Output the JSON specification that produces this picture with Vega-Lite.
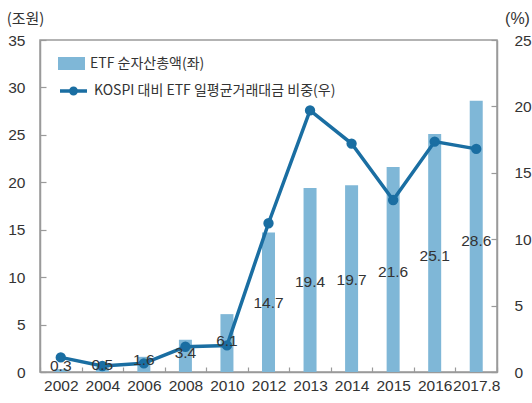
{
  "$schema": "https://vega.github.io/schema/vega-lite/v6.json",
  "autosize": {"type": "none"},
  "padding": {"left": 40, "top": 40, "right": 35, "bottom": 31},
  "width": 457,
  "height": 332,
  "background": "white",
  "config": {
    "view": {"stroke": "#9a9a9a", "strokeWidth": 1.5},
    "font": "Liberation Sans",
    "legend": {"padding": 0},
    "axis": {"grid": false, "domainColor": "#9a9a9a", "tickColor": "#9a9a9a", "domainWidth": 1.5, "tickWidth": 1.2, "labelColor": "#333333", "labelFont": "Liberation Sans", "labelFontSize": 15.5, "titleFont": "Liberation Sans", "titleFontSize": 16, "titleFontWeight": "normal", "titleColor": "#333333"}
  },
  "data": {"values": [
    {"year": "2002", "aum": 0.3, "ratio": 1.1},
    {"year": "2004", "aum": 0.5, "ratio": 0.45},
    {"year": "2006", "aum": 1.6, "ratio": 0.65},
    {"year": "2008", "aum": 3.4, "ratio": 1.9},
    {"year": "2010", "aum": 6.1, "ratio": 2.0},
    {"year": "2012", "aum": 14.7, "ratio": 11.2},
    {"year": "2013", "aum": 19.4, "ratio": 19.7},
    {"year": "2014", "aum": 19.7, "ratio": 17.2},
    {"year": "2015", "aum": 21.6, "ratio": 12.95},
    {"year": "2016", "aum": 25.1, "ratio": 17.35},
    {"year": "2017.8", "aum": 28.6, "ratio": 16.8}
  ]},
  "encoding": {
    "x": {"field": "year", "type": "nominal", "sort": null, "title": null,
      "scale": {"paddingInner": 0, "paddingOuter": 0},
      "axis": {"labelAngle": 0, "tickBand": "extent", "tickSize": -5, "labelPadding": 11, "domain": true}}
  },
  "layer": [
    {
      "mark": {"type": "bar", "size": 13, "color": "#7fb7d7"},
      "encoding": {
        "y": {"field": "aum", "type": "quantitative", "scale": {"domain": [0, 35], "nice": false},
          "axis": {"values": [0, 5, 10, 15, 20, 25, 30, 35], "orient": "left", "tickSize": -6, "labelPadding": 21, "title": "(조원)", "titleAngle": 0, "titleX": -15, "titleY": -22, "titleAlign": "center", "titleBaseline": "middle", "titleFont": "Noto Sans CJK KR", "titleFontSize": 15}},
        "fill": {"datum": "ETF 순자산총액(좌)", "type": "nominal",
          "scale": {"range": ["#7fb7d7"]},
          "legend": {"orient": "none", "legendX": 18, "legendY": 10, "title": null, "symbolType": "M-1,-0.48H1V0.48H-1Z", "symbolSize": 729, "symbolStrokeWidth": 0, "labelFont": "Noto Sans CJK KR", "labelFontSize": 14, "labelColor": "#333333", "labelOffset": 5, "labelLimit": 0}}
      }
    },
    {
      "mark": {"type": "line", "strokeWidth": 3.5, "color": "#1a6ea2", "point": {"size": 70, "filled": true, "color": "#1a6ea2"}},
      "encoding": {
        "y": {"field": "ratio", "type": "quantitative", "scale": {"domain": [0, 25], "nice": false},
          "axis": {"values": [0, 5, 10, 15, 20, 25], "orient": "right", "tickSize": -6, "labelPadding": 23, "title": "(%)", "titleAngle": 0, "titleX": 20, "titleY": -22, "titleAlign": "center", "titleBaseline": "middle", "titleFontSize": 16}},
        "stroke": {"datum": "KOSPI 대비 ETF 일평균거래대금 비중(우)", "type": "nominal",
          "scale": {"range": ["#1a6ea2"]},
          "legend": {"orient": "none", "legendX": 18, "legendY": 35.5, "title": null, "symbolType": "M-1,0H1M0.2,0A0.2,0.2 0 1 1 -0.2,0A0.2,0.2 0 1 1 0.2,0Z", "symbolSize": 729, "symbolStrokeWidth": 3.5, "symbolFillColor": "#1a6ea2", "labelFont": "Noto Sans CJK KR", "labelFontSize": 14, "labelColor": "#333333", "labelOffset": 5, "labelLimit": 0}}
      }
    },
    {
      "mark": {"type": "text", "fontSize": 15.5, "color": "#333333", "baseline": "middle", "align": "center", "font": "Liberation Sans"},
      "encoding": {
        "y": {"field": "aum", "type": "quantitative", "scale": {"domain": [-1, 74], "nice": false, "zero": false}, "axis": null},
        "text": {"field": "aum", "type": "quantitative", "format": ".1f"}
      }
    }
  ],
  "resolve": {"scale": {"y": "independent", "fill": "independent", "stroke": "independent"}}
}
